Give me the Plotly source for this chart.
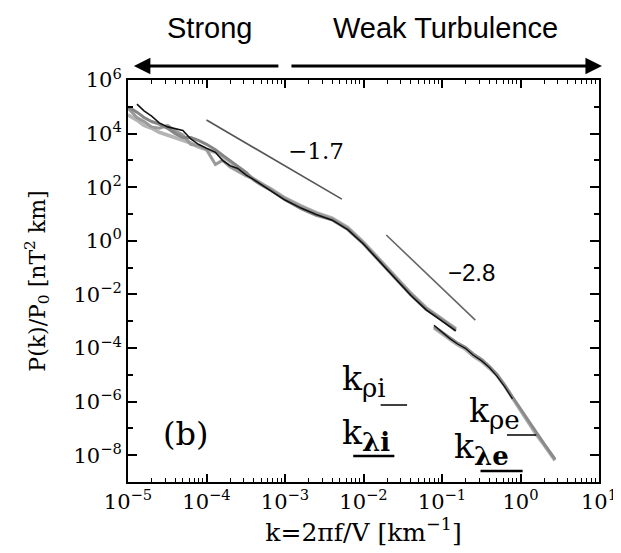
import plotly.graph_objects as go

W, H = 621, 553
L, R, T, B = 120, 20, 72, 79

# ---------------- data ----------------
k_low = [1.0e-5, 1.3e-5, 1.6e-5, 2.0e-5, 2.5e-5, 3.2e-5, 4.0e-5, 5.0e-5, 6.3e-5, 7.9e-5,
         1.0e-4, 1.3e-4, 1.6e-4, 2.0e-4, 2.5e-4, 3.2e-4, 4.0e-4, 5.0e-4, 6.3e-4, 7.9e-4,
         1.0e-3, 1.6e-3, 2.5e-3, 4.0e-3, 6.3e-3, 1.0e-2, 1.6e-2, 2.5e-2, 4.0e-2, 6.3e-2,
         0.10, 0.15]

P_low_black = [None, 1.26e5, 7.08e4, 4.47e4, 2.51e4, 1.78e4, 1.58e4, 1.32e4, 6.31e3, 3.98e3,
               2.82e3, 2.0e3, 1.0e3, 631, 501, 282, 191, 126, 79.4, 52.5,
               33.1, 16.6, 9.55, 5.89, 2.63, 0.76, 0.166, 0.0417, 9.33e-3, 2.63e-3,
               1.05e-3, 4.37e-4]
P_low_grayA = [8.91e4, 3.98e4, 2.82e4, 1.78e4, 1.58e4, 2.0e4, 1.26e4, 8.91e3, 3.98e3, 3.55e3,
               2.51e3, 708, 1.0e3, 562, 398, 263, 200, 141, 89.1, 60.3,
               38.0, 19.1, 10.7, 6.61, 3.02, 0.832, 0.191, 0.0479, 0.0107, 3.02e-3,
               1.20e-3, 5.01e-4]
P_low_grayB = [5.01e4, 3.16e4, 2.0e4, 1.58e4, 1.12e4, 8.91e3, 7.08e3, 5.62e3, 4.47e3, 3.16e3,
               2.51e3, 2.0e3, 1.41e3, 891, 501, 316, 209, 132, 95.5, 63.1,
               39.8, 20.0, 11.2, 7.08, 3.16, 0.891, 0.200, 0.0501, 0.0112, 3.16e-3,
               1.26e-3, 5.25e-4]
P_low_grayC = [1.0e5, 6.31e4, 3.98e4, 2.82e4, 2.24e4, 1.58e4, 1.0e4, 7.08e3, 7.08e3, 5.62e3,
               3.98e3, 2.51e3, 1.58e3, 1.0e3, 631, 355, 186, 120, 83.2, 53.7,
               33.9, 15.8, 8.91, 6.03, 2.63, 0.759, 0.174, 0.0427, 9.55e-3, 2.69e-3,
               1.10e-3, 4.47e-4]

k_high = [0.079, 0.10, 0.126, 0.158, 0.20, 0.25, 0.32, 0.40, 0.50, 0.63, 0.79, 1.0,
          1.26, 1.58, 2.0, 2.75]
P_high_black = [7.08e-4, 3.98e-4, 2.24e-4, 1.41e-4, 9.55e-5, 5.37e-5, 3.31e-5, 1.86e-5,
                8.91e-6, 3.55e-6, 1.26e-6, None, None, None, None, None]
P_high_grayA = [6.31e-4, 3.80e-4, 2.40e-4, 1.51e-4, 1.05e-4, 6.03e-5, 3.72e-5, 2.09e-5,
                1.05e-5, 4.17e-6, 1.48e-6, 5.25e-7, 1.86e-7, 6.61e-8, 2.63e-8, 7.08e-9]
P_high_grayB = [5.62e-4, 3.55e-4, 2.09e-4, 1.32e-4, 8.91e-5, 5.01e-5, 3.16e-5, 1.78e-5,
                9.55e-6, 3.80e-6, 1.35e-6, 4.79e-7, 1.70e-7, 6.03e-8, 2.40e-8, 6.31e-9]

# reference power-law slopes
slope17_k = [1.0e-4, 5.3e-3]
slope17_P = [3.2e4, 36.0]
slope28_k = [0.0195, 0.266]
slope28_P = [1.64, 1.1e-3]

x_tick_vals = [1e-5, 1e-4, 1e-3, 1e-2, 1e-1, 1e0, 1e1]
x_tick_text = ["10<sup>−5</sup>", "10<sup>−4</sup>", "10<sup>−3</sup>", "10<sup>−2</sup>",
               "10<sup>−1</sup>", "10<sup>0</sup>", "10<sup>1</sup>"]
y_tick_vals = [1e-8, 1e-6, 1e-4, 1e-2, 1e0, 1e2, 1e4, 1e6]
y_tick_text = ["10<sup>−8</sup>", "10<sup>−6</sup>", "10<sup>−4</sup>", "10<sup>−2</sup>",
               "10<sup>0</sup>", "10<sup>2</sup>", "10<sup>4</sup>", "10<sup>6</sup>"]

# ---------------- figure ----------------
SERIF = "DejaVu Serif"
SANS = "Liberation Sans, Arial"

fig = go.Figure()

def add(k, p, color, width):
    fig.add_trace(go.Scatter(x=k, y=p, mode="lines", line=dict(color=color, width=width),
                             connectgaps=False, showlegend=False, hoverinfo="skip"))

add(k_low, P_low_grayB, "#b4b4b4", 3.5)
add(k_low, P_low_grayA, "#9a9a9a", 3)
add(k_low, P_low_grayC, "#858585", 3)
add(k_low, P_low_black, "#111111", 1.6)
add(k_high, P_high_grayB, "#b0b0b0", 3.5)
add(k_high, P_high_grayA, "#8a8a8a", 3)
add(k_high, P_high_black, "#111111", 1.4)
add(slope17_k, slope17_P, "#555555", 1.6)
add(slope28_k, slope28_P, "#666666", 1.6)

# minor tick positions
x_minor = [m * 10.0 ** e for e in range(-5, 1) for m in range(2, 10)]
y_minor = [10.0 ** e for e in range(-9, 6, 2)]

axis_common = dict(type="log", showgrid=False, zeroline=False, showline=True,
                   linecolor="black", linewidth=2, mirror="allticks",
                   ticks="inside", tickcolor="black", tickwidth=1.5,
                   ticklabeloverflow="allow",
                   tickfont=dict(family=SERIF, size=21, color="black"))

fig.update_xaxes(range=[-5, 1], tickmode="array", tickvals=x_tick_vals, ticktext=x_tick_text,
                 ticklen=8,
                 minor=dict(tickmode="array", tickvals=x_minor, ticks="inside", ticklen=4,
                            tickcolor="black", tickwidth=1.2),
                 title=dict(text="k=2πf/V [km<sup>−1</sup>]",
                            font=dict(family=SERIF, size=25, color="black"), standoff=5),
                 **axis_common)
fig.update_yaxes(range=[-9, 6], tickmode="array", tickvals=y_tick_vals, ticktext=y_tick_text,
                 ticklen=9,
                 minor=dict(tickmode="array", tickvals=y_minor, ticks="inside", ticklen=5,
                            tickcolor="black", tickwidth=1.5),
                 title=dict(text="P(k)/P<sub>0</sub> [nT<sup>2</sup> km]",
                            font=dict(family=SERIF, size=22, color="black"), standoff=22),
                 **axis_common)

def px(x):
    return (x - L) / (W - L - R)

def py(y):
    return 1 - (y - T) / (H - T - B)

ann = []
def text(x, y, s, size, family=SERIF, xanchor="center", yanchor="middle"):
    ann.append(dict(x=px(x), y=py(y), xref="paper", yref="paper", text=s, showarrow=False,
                    xanchor=xanchor, yanchor=yanchor,
                    font=dict(family=family, size=size, color="black")))

SUB = '<sub><span style="font-size:26px">%s</span></sub>'
text(203, 20, "Strong", 29, SANS)
text(444, 20, "Weak Turbulence", 29, SANS)
text(312, 143, "−1.7", 23)
text(471, 264, "−2.8", 24, SANS)
text(179, 426, "(b)", 32)
text(336, 373, "k" + SUB % "ρi", 33, xanchor="left")
text(336, 427, "k" + SUB % "<b>λi</b>", 33, xanchor="left")
text(466, 405, "k" + SUB % "ρe", 33, xanchor="left")
text(451, 441, "k" + SUB % "<b>λe</b>", 33, xanchor="left")

# arrows at the top
for head, tail in [(126, 272), (604, 292)]:
    ann.append(dict(x=px(head), y=py(58), xref="paper", yref="paper", text="",
                    showarrow=True, ax=tail - head, ay=0, axref="pixel", ayref="pixel",
                    arrowhead=2, arrowsize=1.1, arrowwidth=3, arrowcolor="black",
                    standoff=0, startstandoff=0))

shapes = []
for x0, x1, y, w in [(378, 405, 397, 1.5), (350, 392, 448, 2.5), (507, 537, 427, 1.5), (480, 523, 463, 2.5)]:
    shapes.append(dict(type="line", xref="paper", yref="paper", x0=px(x0), x1=px(x1),
                       y0=py(y), y1=py(y), line=dict(color="black", width=w)))

fig.update_layout(width=W, height=H, margin=dict(l=L, r=R, t=T, b=B),
                  paper_bgcolor="white", plot_bgcolor="white",
                  annotations=ann, shapes=shapes, showlegend=False)

fig.write_html("out.html")
